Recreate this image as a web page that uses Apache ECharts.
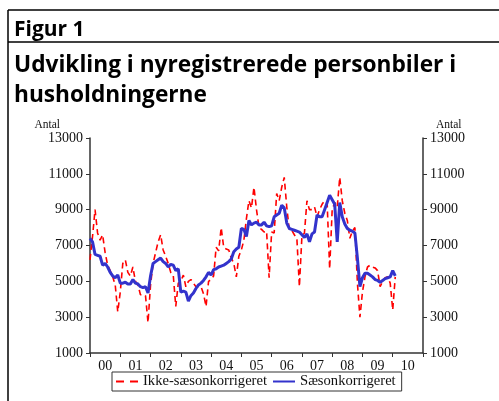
<!DOCTYPE html>
<html>
<head>
<meta charset="utf-8">
<script src="https://cdn.jsdelivr.net/npm/echarts@6/dist/echarts.min.js"></script>
<style>
  html, body { margin: 0; padding: 0; background: #fff; }
  #chart { width: 499px; height: 401px; }
</style>
</head>
<body>
<div id="chart"></div>
<script>
// years on the x axis, months counted from Jan 2000
const years = ['00', '01', '02', '03', '04', '05', '06', '07', '08', '09', '10'];

// Ikke-saesonkorrigeret (monthly, Jan 2000 ->)
const ikkeSaeson = [
  6200, 7500, 9000, 7700, 7300, 7600, 6600, 5900, 5600, 5250, 4800, 3300,
  4400, 6000, 6200, 5500, 5300, 5800, 5000, 4800, 4250, 4250, 4200, 2700,
  4800, 6000, 6600, 7200, 7600, 6750, 6400, 6000, 5500, 5350, 3600, 4900,
  5000, 5350, 4700, 5000, 5100, 4900, 4700, 4700, 4700, 4300, 3600, 5000,
  5100, 5300, 6900, 6700, 8000, 6900, 6800, 6750, 6300, 6000, 5250, 6400,
  6750, 7300, 8500, 9500, 9100, 10250, 9000, 8000, 7900, 7750, 7800, 5200,
  7750, 7700, 9900, 9500, 10250, 10800, 9150, 7850, 7850, 7600, 7400, 4700,
  7500, 7700, 9500, 9000, 9000, 9150, 8600, 9000, 9300, 9500, 9400, 5700,
  9000, 9400, 9150, 10800, 9500, 8800, 8400, 7400, 7800, 8000, 4900, 3000,
  4400, 5250, 5800, 5900, 5800, 5750, 5600, 4700, 5000, 5200, 5250, 4900,
  3400, 5250
];

// Saesonkorrigeret
const saeson = [
  7400, 7200, 6500, 6450, 6400, 5900, 6000, 5800, 5500, 5300, 5200, 5350,
  4900, 4900, 4950, 4850, 4850, 5100, 4900, 4850, 4700, 4650, 4700, 4350,
  5300, 6000, 6100, 6200, 6300, 6100, 6000, 5800, 5950, 5900, 5600, 5700,
  4400, 4450, 4400, 3900, 4200, 4350, 4600, 4800, 4900, 5050, 5250, 5500,
  5350, 5650, 5700, 5800, 5850, 5900, 6000, 6100, 6250, 6650, 6800, 6900,
  7950, 7900, 7500, 8400, 8150, 8250, 8300, 8150, 8150, 8300, 8100, 8050,
  8100, 8600, 8700, 8800, 9250, 9100, 8250, 7950, 7900, 7850, 7800, 7750,
  7600, 7450, 7650, 7200, 7650, 7750, 8700, 8600, 8600, 9000, 9400, 9800,
  9550, 9300, 7200, 9400, 8600, 8200, 7950, 7850, 7800, 7700, 6300, 4700,
  5200, 5450, 5450, 5350, 5250, 5100, 5050, 4950, 5050, 5150, 5200, 5250,
  5600, 5300
];

const serif = 'Liberation Serif';
const sans = 'Open Sans';

const chart = echarts.init(document.getElementById('chart'));

const yAxisBase = {
  type: 'value',
  min: 1000,
  max: 13000,
  interval: 2000,
  name: 'Antal',
  nameLocation: 'end',
  nameGap: 6,
  splitLine: { show: false },
  axisLine: { show: true, lineStyle: { color: '#333', width: 1.5 } },
  axisTick: { show: true, length: 4, lineStyle: { color: '#333' } },
  axisLabel: { color: '#111', fontFamily: serif, fontSize: 14, margin: 7, formatter: v => String(v) }
};

const option = {
  animation: false,
  backgroundColor: '#fff',
  title: [
    {
      text: 'Figur 1',
      left: 9,
      top: 15,
      textStyle: { fontFamily: sans, fontWeight: 'bold', fontSize: 21, color: '#000' }
    },
    {
      text: 'Udvikling i nyregistrerede personbiler i\nhusholdningerne',
      left: 9,
      top: 46,
      textStyle: { fontFamily: sans, fontWeight: 'bold', fontSize: 22.7, lineHeight: 30, color: '#000' }
    }
  ],
  graphic: [
    { type: 'line', shape: { x1: 8, y1: 10, x2: 499, y2: 10 }, style: { stroke: '#000', lineWidth: 1.5 } },
    { type: 'line', shape: { x1: 8, y1: 42, x2: 499, y2: 42 }, style: { stroke: '#000', lineWidth: 1.5 } },
    { type: 'line', shape: { x1: 8, y1: 10, x2: 8, y2: 401 }, style: { stroke: '#000', lineWidth: 1.5 } }
  ],
  grid: { left: 90, right: 76, top: 138, bottom: 48 },
  legend: {
    left: 112,
    top: 372,
    padding: [2, 6, 2, 3],
    itemGap: 5,
    itemWidth: 22,
    itemHeight: 10,
    borderColor: '#333',
    borderWidth: 1,
    itemStyle: { opacity: 0 },
    textStyle: { fontFamily: serif, fontSize: 14.6, color: '#111' },
    data: [
      { name: 'Ikke-sæsonkorrigeret', lineStyle: { type: [8, 6], width: 2 } },
      { name: 'Sæsonkorrigeret' }
    ]
  },
  xAxis: [
    {
      type: 'value',
      min: 0,
      max: 132,
      interval: 12,
      splitLine: { show: false },
      axisLine: { show: true, onZero: false, lineStyle: { color: '#333', width: 1.5 } },
      axisTick: { show: true, length: 4, lineStyle: { color: '#333' } },
      axisLabel: { show: false }
    },
    {
      type: 'category',
      position: 'bottom',
      data: years,
      boundaryGap: true,
      axisLine: { show: false },
      axisTick: { show: false },
      axisLabel: { color: '#111', fontFamily: serif, fontSize: 14, margin: 6 }
    }
  ],
  yAxis: [
    Object.assign({}, yAxisBase, {
      position: 'left',
      nameTextStyle: { fontFamily: serif, fontSize: 11.5, color: '#111', align: 'right', padding: [0, 30, 0, 0] }
    }),
    Object.assign({}, yAxisBase, {
      position: 'right',
      nameTextStyle: { fontFamily: serif, fontSize: 11.5, color: '#111', align: 'left', padding: [0, 0, 0, 13] }
    })
  ],
  series: [
    {
      name: 'Ikke-sæsonkorrigeret',
      type: 'line',
      xAxisIndex: 0,
      yAxisIndex: 0,
      showSymbol: false,
      symbol: 'none',
      color: '#ff0000',
      lineStyle: { color: '#ff0000', width: 1.6, type: [6, 4] },
      data: ikkeSaeson.map((v, i) => [i, v])
    },
    {
      name: 'Sæsonkorrigeret',
      type: 'line',
      xAxisIndex: 0,
      yAxisIndex: 0,
      showSymbol: false,
      symbol: 'none',
      color: '#3333cc',
      lineStyle: { color: '#3333cc', width: 3 },
      data: saeson.map((v, i) => [i, v])
    }
  ]
};

chart.setOption(option);
</script>
</body>
</html>
